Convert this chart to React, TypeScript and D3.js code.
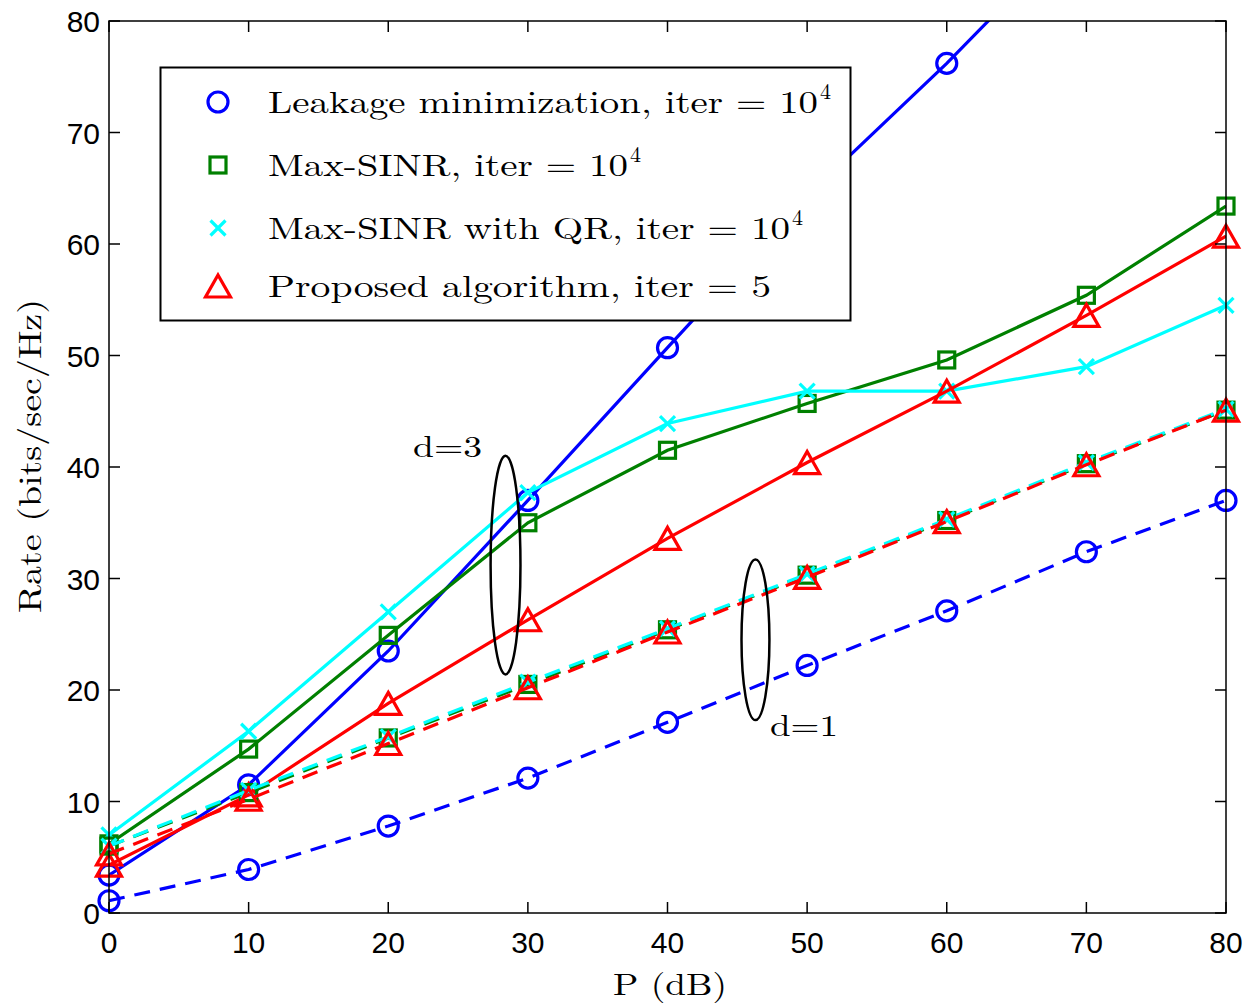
import React from "react";
import * as d3 from "d3";

const P = [0, 10, 20, 30, 40, 50, 60, 70, 80];
const xTicks = [0, 10, 20, 30, 40, 50, 60, 70, 80];
const yTicks = [0, 10, 20, 30, 40, 50, 60, 70, 80];

// d = 3 (solid)
const leak3 = [3.4, 11.5, 23.5, 37.0, 50.7, 64.3, 76.2, 89.0, 102.0];
const maxsinr3 = [6.2, 14.7, 24.9, 35.0, 41.5, 45.7, 49.6, 55.4, 63.4];
const qr3 = [7.0, 16.3, 27.0, 37.7, 43.9, 46.8, 46.8, 49.0, 54.5];
const prop3 = [4.3, 10.6, 18.8, 26.3, 33.6, 40.4, 46.8, 53.6, 60.7];

// d = 1 (dashed)
const leak1 = [1.1, 3.9, 7.8, 12.1, 17.1, 22.2, 27.1, 32.4, 37.0];
const maxsinr1 = [6.0, 10.8, 15.7, 20.5, 25.4, 30.3, 35.2, 40.3, 45.1];
const qr1 = [6.0, 11.0, 15.8, 20.7, 25.5, 30.4, 35.3, 40.4, 45.2];
const prop1 = [5.3, 10.2, 15.2, 20.2, 25.2, 30.1, 35.1, 40.2, 45.1];

const legendLabels = [
  { text: "Leakage minimization, iter = 10", sup: "4", len: 550 },
  { text: "Max-SINR, iter = 10", sup: "4", len: 360 },
  { text: "Max-SINR with QR, iter = 10", sup: "4", len: 522 },
  { text: "Proposed algorithm, iter = 5", sup: "", len: 503 },
];

const BLUE = "#0000ff";
const GREEN = "#008000";
const CYAN = "#00ffff";
const RED = "#ff0000";

const L = 109, R = 1226, T = 21, B = 913;
const serif = "'Latin Modern Roman', 'CMU Serif', 'Liberation Serif', serif";
const sans = "'Liberation Sans', Arial, Helvetica, sans-serif";
const LW = 3.2;

type Kind = "circle" | "square" | "x" | "tri";

function Marker({ kind, cx, cy, color }: { kind: Kind; cx: number; cy: number; color: string }) {
  if (kind === "circle") return <circle cx={cx} cy={cy} r={10} fill="none" stroke={color} strokeWidth={LW} />;
  if (kind === "square") return <rect x={cx - 8} y={cy - 8} width={16} height={16} fill="none" stroke={color} strokeWidth={LW} />;
  if (kind === "x") {
    const s = 7.5;
    return (
      <g stroke={color} strokeWidth={LW}>
        <line x1={cx - s} y1={cy - s} x2={cx + s} y2={cy + s} />
        <line x1={cx - s} y1={cy + s} x2={cx + s} y2={cy - s} />
      </g>
    );
  }
  const w = 12.5, h = 11;
  return (
    <path
      d={`M${cx},${cy - h}L${cx + w},${cy + h}L${cx - w},${cy + h}Z`}
      fill="none"
      stroke={color}
      strokeWidth={LW}
      strokeLinejoin="miter"
    />
  );
}

export default function App() {
  const x = d3.scaleLinear().domain([0, 80]).range([L, R]);
  const y = d3.scaleLinear().domain([0, 80]).range([B, T]);
  const line = d3
    .line<number>()
    .x((_, i) => x(P[i]))
    .y((v) => y(v));

  const series: { data: number[]; color: string; kind: Kind; dash?: string }[] = [
    { data: leak3, color: BLUE, kind: "circle" },
    { data: maxsinr3, color: GREEN, kind: "square" },
    { data: qr3, color: CYAN, kind: "x" },
    { data: prop3, color: RED, kind: "tri" },
    { data: leak1, color: BLUE, kind: "circle", dash: "16,10" },
    { data: maxsinr1, color: GREEN, kind: "square", dash: "16,10" },
    { data: qr1, color: CYAN, kind: "x", dash: "16,10" },
    { data: prop1, color: RED, kind: "tri", dash: "16,10" },
  ];

  const legendKinds: { kind: Kind; color: string }[] = [
    { kind: "circle", color: BLUE },
    { kind: "square", color: GREEN },
    { kind: "x", color: CYAN },
    { kind: "tri", color: RED },
  ];
  const legendRowY = [102, 165, 228, 286];

  return (
    <svg width={1257} height={1004} style={{ position: "absolute", left: 0, top: 0, background: "#fff" }}>
      <defs>
        <clipPath id="plotclip">
          <rect x={L} y={T} width={R - L} height={B - T} />
        </clipPath>
      </defs>
      <rect x={0} y={0} width={1257} height={1004} fill="#fff" />

      {/* series */}
      {series.map((s, si) => (
        <g key={si}>
          <path
            d={line(s.data) || ""}
            fill="none"
            stroke={s.color}
            strokeWidth={LW}
            strokeDasharray={s.dash}
            clipPath="url(#plotclip)"
          />
          {s.data.map((v, i) =>
            v <= 80 ? <Marker key={i} kind={s.kind} cx={x(P[i])} cy={y(v)} color={s.color} /> : null
          )}
        </g>
      ))}

      {/* ellipses */}
      <ellipse cx={x(28.4)} cy={y(31.2)} rx={x(1.07) - x(0)} ry={y(0) - y(9.8)} fill="none" stroke="#000" strokeWidth={2.5} />
      <ellipse cx={x(46.3)} cy={y(24.5)} rx={x(1.0) - x(0)} ry={y(0) - y(7.2)} fill="none" stroke="#000" strokeWidth={2.5} />
      <text x={413} y={457} fontFamily={serif} fontSize={30} textLength={69} lengthAdjust="spacingAndGlyphs">d=3</text>
      <text x={770} y={736} fontFamily={serif} fontSize={30} textLength={68} lengthAdjust="spacingAndGlyphs">d=1</text>

      {/* axes box */}
      <rect x={L} y={T} width={R - L} height={B - T} fill="none" stroke="#000" strokeWidth={1.5} />
      {xTicks.map((t) => (
        <g key={"xt" + t}>
          <line x1={x(t)} x2={x(t)} y1={B} y2={B - 11} stroke="#000" strokeWidth={1.5} />
          <line x1={x(t)} x2={x(t)} y1={T} y2={T + 11} stroke="#000" strokeWidth={1.5} />
          <text x={x(t)} y={953} textAnchor="middle" fontFamily={sans} fontSize={30}>{t}</text>
        </g>
      ))}
      {yTicks.map((t) => (
        <g key={"yt" + t}>
          <line x1={L} x2={L + 11} y1={y(t)} y2={y(t)} stroke="#000" strokeWidth={1.5} />
          <line x1={R} x2={R - 11} y1={y(t)} y2={y(t)} stroke="#000" strokeWidth={1.5} />
          <text x={100} y={y(t) + 11} textAnchor="end" fontFamily={sans} fontSize={30}>{t}</text>
        </g>
      ))}

      {/* axis labels */}
      <text x={670} y={995} textAnchor="middle" fontFamily={serif} fontSize={31} textLength={114} lengthAdjust="spacingAndGlyphs">P (dB)</text>
      <text
        transform="translate(41,456) rotate(-90)"
        textAnchor="middle"
        fontFamily={serif}
        fontSize={32}
        textLength={314}
        lengthAdjust="spacingAndGlyphs"
      >
        Rate (bits/sec/Hz)
      </text>

      {/* legend */}
      <rect x={160.5} y={67.5} width={690} height={253} fill="#fff" stroke="#000" strokeWidth={2} />
      {legendLabels.map((lb, i) => (
        <g key={"lg" + i}>
          <Marker kind={legendKinds[i].kind} cx={218} cy={legendRowY[i]} color={legendKinds[i].color} />
          <text x={268} y={legendRowY[i] + 11} fontFamily={serif} fontSize={31} textLength={lb.len} lengthAdjust="spacingAndGlyphs">
            {lb.text}
          </text>
          {lb.sup ? (
            <text x={268 + lb.len + 2} y={legendRowY[i] - 3} fontFamily={serif} fontSize={22}>
              {lb.sup}
            </text>
          ) : null}
        </g>
      ))}
    </svg>
  );
}
